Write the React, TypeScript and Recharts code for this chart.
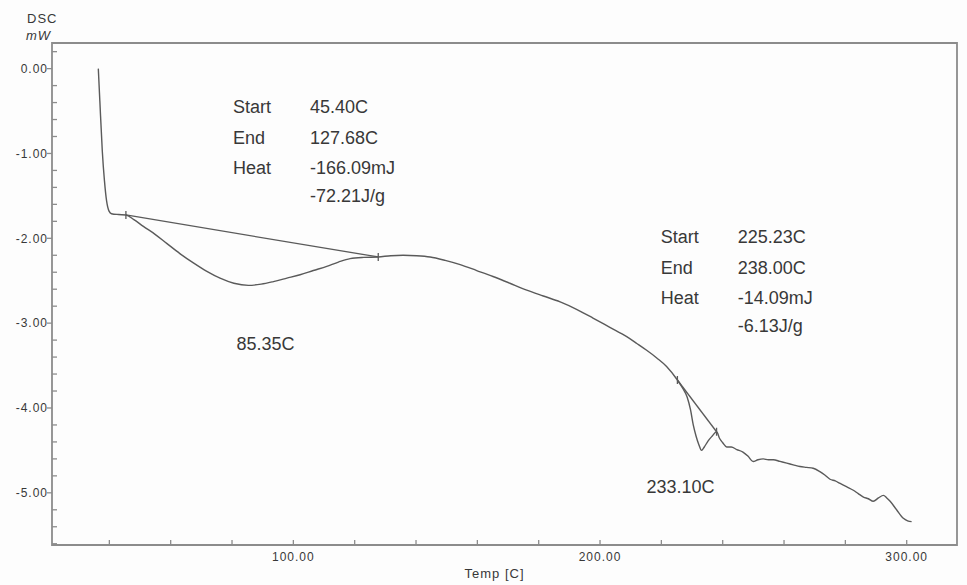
import type { ReactNode } from "react";
import {
	ComposedChart,
	Line,
	ReferenceArea,
	ReferenceDot,
	Scatter,
	XAxis,
	YAxis,
} from "recharts";

// DSC trace: temperature (C) and heat flow (mW)
const temperature = [
	36.4, 36.9, 37.7, 38.4, 39.1, 39.9, 40.7, 43.0, 45.4, 48.0, 51.1, 54.8, 58.7,
	63.0, 67.4, 71.8, 76.1, 80.6, 85.35, 89.5, 93.5, 97.9, 102.2, 106.5, 110.9,
	114.7, 118.5, 123.0, 127.68, 131.8, 135.8, 140.2, 144.6, 149.5, 154.4, 159.8,
	165.1, 170.6, 176.1, 181.5, 187.0, 192.5, 197.7, 203.2, 208.7, 212.0, 215.2,
	218.5, 221.7, 225.23, 227.0, 228.4, 229.5, 230.4, 231.3, 232.2, 233.1, 234.0,
	235.2, 236.6, 238.0, 239.0, 240.0, 241.3, 242.8, 244.6, 246.6, 248.3, 249.9,
	251.5, 253.2, 254.9, 256.5, 258.7, 260.9, 263.0, 265.2, 267.3, 269.5, 271.7,
	273.3, 275.0, 276.7, 278.3, 280.5, 282.6, 284.2, 285.9, 287.5, 289.1, 290.8,
	292.4, 293.5, 294.6, 296.7, 298.9, 300.3, 301.6,
];
const heatFlow = [
	0.0, -0.38, -0.97, -1.32, -1.56, -1.68, -1.71, -1.72, -1.725, -1.78, -1.86,
	-1.95, -2.06, -2.18, -2.29, -2.39, -2.47, -2.53, -2.555, -2.54, -2.51, -2.47,
	-2.43, -2.38, -2.33, -2.28, -2.24, -2.225, -2.22, -2.205, -2.2, -2.205, -2.22,
	-2.26, -2.31, -2.38, -2.45, -2.53, -2.61, -2.68, -2.75, -2.84, -2.94, -3.05,
	-3.16, -3.24, -3.32, -3.41, -3.51, -3.67, -3.77, -3.87, -4.02, -4.2, -4.33,
	-4.43, -4.5, -4.46, -4.39, -4.33, -4.28, -4.36, -4.41, -4.46, -4.46, -4.49,
	-4.52, -4.57, -4.63, -4.61, -4.6, -4.61, -4.61, -4.63, -4.65, -4.67, -4.69,
	-4.7, -4.71, -4.75, -4.79, -4.84, -4.86, -4.89, -4.93, -4.97, -5.01, -5.05,
	-5.07, -5.1, -5.06, -5.03, -5.06, -5.1, -5.2, -5.3, -5.33, -5.34,
];

// integration baselines (start -> end of each event)
const baselineATemp = [45.4, 127.68];
const baselineAFlow = [-1.725, -2.22];
const baselineBTemp = [225.23, 238.0];
const baselineBFlow = [-3.67, -4.28];

// event limits marked on the trace
const markerTemp = [45.4, 127.68, 225.23, 238.0];
const markerFlow = [-1.725, -2.22, -3.67, -4.28];

const eventA = [
	["Start", "45.40C"],
	["End", "127.68C"],
	["Heat", "-166.09mJ"],
	["", "-72.21J/g"],
];
const eventB = [
	["Start", "225.23C"],
	["End", "238.00C"],
	["Heat", "-14.09mJ"],
	["", "-6.13J/g"],
];
const peakTemps = [85.35, 233.1];
const peakLabels = ["85.35C", "233.10C"];

const xTicks = [
	40, 60, 80, 100, 120, 140, 160, 180, 200, 220, 240, 260, 280, 300,
];
const yTicks = [
	0.2, 0, -0.2, -0.4, -0.6, -0.8, -1, -1.2, -1.4, -1.6, -1.8, -2, -2.2, -2.4,
	-2.6, -2.8, -3, -3.2, -3.4, -3.6, -3.8, -4, -4.2, -4.4, -4.6, -4.8, -5, -5.2,
	-5.4, -5.6,
];

const xDomain: [number, number] = [21.3, 316.4];
const yDomain: [number, number] = [-5.615, 0.302];

const font = "'Liberation Sans', Arial, sans-serif";
const ink = "#383838";
const trace = "#5a5a5a";
const frame = "#8c8c8c";

const toRows = (xs: number[], ys: number[]) =>
	xs.map((t, i) => ({ temp: t, mw: ys[i] }));

const traceData = toRows(temperature, heatFlow);
const baselineA = toRows(baselineATemp, baselineAFlow);
const baselineB = toRows(baselineBTemp, baselineBFlow);
const markers = toRows(markerTemp, markerFlow);

const flowAt = (t: number) => heatFlow[temperature.indexOf(t)];

function XTick({ x, y, payload }: any): ReactNode {
	const v = payload.value as number;
	return (
		<g>
			<line x1={x} y1={y} x2={x} y2={y - 5} stroke={frame} strokeWidth={1.3} />
			{v % 100 === 0 && (
				<text
					x={x}
					y={y + 16}
					textAnchor="middle"
					fontFamily={font}
					fontSize={12}
					letterSpacing={1}
					fill={ink}
				>
					{v.toFixed(2)}
				</text>
			)}
		</g>
	);
}

function YTick({ x, y, payload }: any): ReactNode {
	const v = payload.value as number;
	const major = Math.abs(v - Math.round(v)) < 1e-6;
	return (
		<g>
			{major ? (
				<line x1={x - 5} y1={y} x2={x} y2={y} stroke={frame} strokeWidth={1.3} />
			) : (
				<line x1={x} y1={y} x2={x + 5} y2={y} stroke={frame} strokeWidth={1.3} />
			)}
			{major && (
				<text
					x={x - 4}
					y={y}
					dy="0.36em"
					textAnchor="end"
					fontFamily={font}
					fontSize={12}
					letterSpacing={1}
					fill={ink}
				>
					{v.toFixed(2)}
				</text>
			)}
		</g>
	);
}

function NoteBlock({ viewBox, rows }: any): ReactNode {
	const { x, y } = viewBox;
	const offsets = [0, 31, 61, 89];
	return (
		<g fontFamily={font} fontSize={18} fill={ink}>
			{rows.map(([k, v]: string[], i: number) => (
				<g key={i}>
					<text x={x} y={y + offsets[i]} dy="0.35em">
						{k}
					</text>
					<text x={x + 77} y={y + offsets[i]} dy="0.35em">
						{v}
					</text>
				</g>
			))}
		</g>
	);
}

function PeakLabel({ viewBox, text, dx, dy }: any): ReactNode {
	return (
		<text
			x={viewBox.x + dx}
			y={viewBox.y + dy}
			dy="0.35em"
			textAnchor="middle"
			fontFamily={font}
			fontSize={18}
			fill={ink}
		>
			{text}
		</text>
	);
}

const TickMark = ({ cx, cy }: any) => (
	<line x1={cx} y1={cy - 4} x2={cx} y2={cy + 4} stroke={trace} strokeWidth={1.3} />
);

export default function App(): ReactNode {
	return (
		<div
			style={{
				position: "absolute",
				left: 0,
				top: 0,
				width: 967,
				height: 585,
				overflow: "hidden",
				background: "#fdfdfd",
			}}
		>
			<ComposedChart
				width={967}
				height={585}
				margin={{ top: 43, right: 10, left: 0, bottom: 0 }}
			>
				<XAxis
					dataKey="temp"
					type="number"
					domain={xDomain}
					ticks={xTicks}
					interval={0}
					allowDataOverflow
					height={40}
					axisLine={false}
					tickLine={false}
					tickSize={0}
					tickMargin={0}
					tick={<XTick />}
					label={{
						content: ({ viewBox }: any) => (
							<text
								x={viewBox.x + viewBox.width / 2 - 10}
								y={viewBox.y + 28}
								dy="0.35em"
								textAnchor="middle"
								fontFamily={font}
								fontSize={13}
								letterSpacing={1}
								fill={ink}
							>
								Temp [C]
							</text>
						),
					}}
				/>
				<YAxis
					dataKey="mw"
					type="number"
					domain={yDomain}
					ticks={yTicks}
					interval={0}
					allowDataOverflow
					width={52}
					axisLine={false}
					tickLine={false}
					tickSize={0}
					tickMargin={0}
					tick={<YTick />}
					label={{
						content: ({ viewBox }: any) => (
							<g fontFamily={font} fontSize={13} letterSpacing={1} fill={ink}>
								<text x={27} y={viewBox.y - 25} dy="0.35em">
									DSC
								</text>
								<text x={26} y={viewBox.y - 8} dy="0.35em" fontStyle="italic">
									mW
								</text>
							</g>
						),
					}}
				/>
				<ReferenceArea
					x1={xDomain[0]}
					x2={xDomain[1]}
					y1={yDomain[0]}
					y2={yDomain[1]}
					fill="none"
					stroke={frame}
					strokeWidth={1.8}
				/>
				<Line
					data={baselineA}
					dataKey="mw"
					type="linear"
					stroke={trace}
					strokeWidth={1.3}
					dot={false}
					isAnimationActive={false}
				/>
				<Line
					data={baselineB}
					dataKey="mw"
					type="linear"
					stroke={trace}
					strokeWidth={1.3}
					dot={false}
					isAnimationActive={false}
				/>
				<Line
					data={traceData}
					dataKey="mw"
					type="monotone"
					stroke={trace}
					strokeWidth={1.4}
					dot={false}
					isAnimationActive={false}
				/>
				<Scatter
					data={markers}
					dataKey="mw"
					shape={<TickMark />}
					isAnimationActive={false}
				/>
				<ReferenceDot
					x={80.3}
					y={-0.449}
					r={0}
					fill="none"
					stroke="none"
					label={(p: any) => <NoteBlock viewBox={p.viewBox} rows={eventA} />}
				/>
				<ReferenceDot
					x={219.8}
					y={-1.98}
					r={0}
					fill="none"
					stroke="none"
					label={(p: any) => <NoteBlock viewBox={p.viewBox} rows={eventB} />}
				/>
				<ReferenceDot
					x={peakTemps[0]}
					y={flowAt(peakTemps[0])}
					r={0}
					fill="none"
					stroke="none"
					label={(p: any) => (
						<PeakLabel viewBox={p.viewBox} text={peakLabels[0]} dx={17} dy={58} />
					)}
				/>
				<ReferenceDot
					x={peakTemps[1]}
					y={flowAt(peakTemps[1])}
					r={0}
					fill="none"
					stroke="none"
					label={(p: any) => (
						<PeakLabel viewBox={p.viewBox} text={peakLabels[1]} dx={-21} dy={36} />
					)}
				/>
			</ComposedChart>
		</div>
	);
}
